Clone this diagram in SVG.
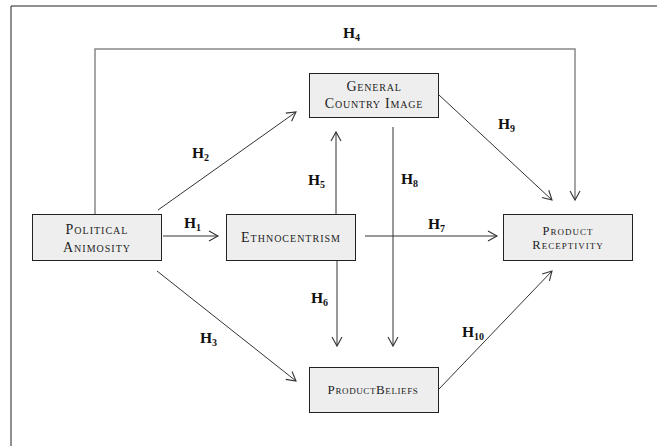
<svg xmlns="http://www.w3.org/2000/svg" width="657" height="446" viewBox="0 0 657 446">
<style>
.box{fill:#eeeeee;stroke:#222;stroke-width:1}
.nt{font-family:"Liberation Serif","Times New Roman",serif;font-variant:small-caps;fill:#222;text-anchor:middle}
.lbl{font-family:"Liberation Serif","Times New Roman",serif;font-weight:bold;font-size:15.5px;fill:#111}
.sub{font-size:10px}
.c{fill:none;stroke:#333;stroke-width:1}
</style>
<defs>
<marker id="ah" markerUnits="userSpaceOnUse" markerWidth="14" markerHeight="14" viewBox="-12 -7 14 14" refX="0" refY="0" orient="auto">
<path d="M-9,-5 L0,0 L-9,5" fill="none" stroke="#333" stroke-width="1.1"/>
</marker>
</defs>
<rect width="657" height="446" fill="#fff"/>
<path d="M11,446 V6 H657" fill="none" stroke="#222" stroke-width="1"/>
<g id="connectors">
<path d="M95,214 V49 H575 V200" fill="none" stroke="#888" stroke-width="1.5" marker-end="url(#ah)"/>
<line class="c" x1="163" y1="236" x2="218" y2="236" marker-end="url(#ah)"/>
<line class="c" x1="158" y1="210" x2="296" y2="112" marker-end="url(#ah)"/>
<line class="c" x1="157" y1="271" x2="296" y2="381" marker-end="url(#ah)"/>
<line class="c" x1="336" y1="214" x2="336" y2="132" marker-end="url(#ah)"/>
<line class="c" x1="337" y1="260" x2="337" y2="346" marker-end="url(#ah)"/>
<line class="c" x1="365" y1="236" x2="497" y2="236" marker-end="url(#ah)"/>
<line class="c" x1="393" y1="127" x2="393" y2="346" marker-end="url(#ah)"/>
<line class="c" x1="439" y1="95" x2="552" y2="200" marker-end="url(#ah)"/>
<line class="c" x1="439" y1="389" x2="552" y2="271" marker-end="url(#ah)"/>
</g>
<g id="labels">
<text class="lbl" x="343" y="38">H<tspan class="sub" dy="3">4</tspan></text>
<text class="lbl" x="192" y="158">H<tspan class="sub" dy="3">2</tspan></text>
<text class="lbl" x="308" y="185">H<tspan class="sub" dy="3">5</tspan></text>
<text class="lbl" x="498" y="129">H<tspan class="sub" dy="3">9</tspan></text>
<text class="lbl" x="401" y="184">H<tspan class="sub" dy="3">8</tspan></text>
<text class="lbl" x="184" y="228">H<tspan class="sub" dy="3">1</tspan></text>
<text class="lbl" x="428" y="229">H<tspan class="sub" dy="3">7</tspan></text>
<text class="lbl" x="311" y="303">H<tspan class="sub" dy="3">6</tspan></text>
<text class="lbl" x="200" y="343">H<tspan class="sub" dy="3">3</tspan></text>
<text class="lbl" x="462" y="337">H<tspan class="sub" dy="3">10</tspan></text>
</g>
<g id="political-animosity">
<rect class="box" x="32.5" y="214.5" width="129" height="46"/>
<text class="nt" x="97" y="234" font-size="14" letter-spacing="1">Political</text>
<text class="nt" x="97" y="252" font-size="14" letter-spacing="1">Animosity</text>
</g>
<g id="ethnocentrism">
<rect class="box" x="226.5" y="214.5" width="129" height="46"/>
<text class="nt" x="291" y="242" font-size="14" letter-spacing="1">Ethnocentrism</text>
</g>
<g id="general-country-image">
<rect class="box" x="309.5" y="73.5" width="129" height="44"/>
<text class="nt" x="374" y="91" font-size="14" letter-spacing="0.8">General</text>
<text class="nt" x="374" y="108" font-size="14" letter-spacing="0.8">Country Image</text>
</g>
<g id="product-receptivity">
<rect class="box" x="503.5" y="214.5" width="129" height="46"/>
<text class="nt" x="568" y="235" font-size="12.5" letter-spacing="1">Product</text>
<text class="nt" x="568" y="249" font-size="12.5" letter-spacing="1">Receptivity</text>
</g>
<g id="product-beliefs">
<rect class="box" x="309.5" y="367.5" width="129" height="45"/>
<text class="nt" x="373" y="394" font-size="13" letter-spacing="0.6">ProductBeliefs</text>
</g>
</svg>
